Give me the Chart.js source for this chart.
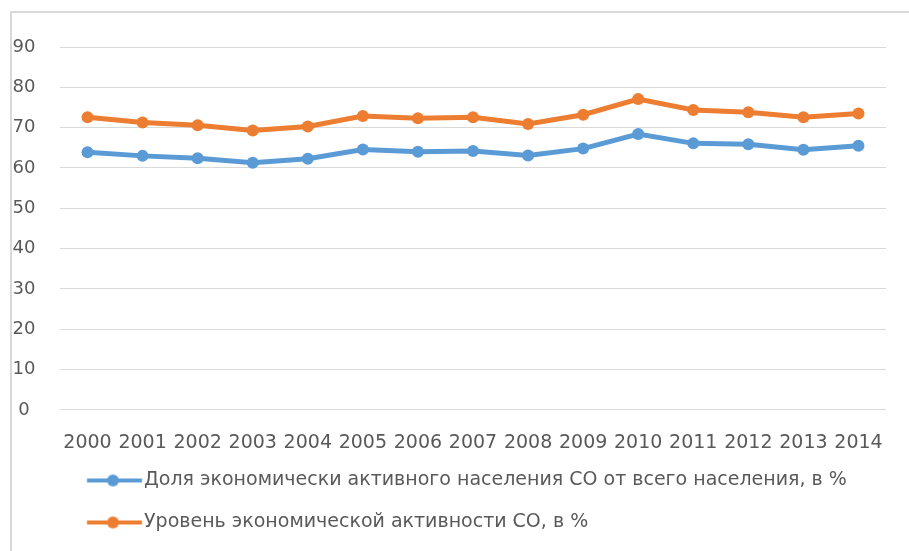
<!DOCTYPE html>
<html>
<head>
<meta charset="utf-8">
<script src="https://cdn.jsdelivr.net/npm/chart.js@4"></script>
<style>
  html, body { margin: 0; padding: 0; background: #fff; overflow: hidden; }
  #frame { position: absolute; left: 10px; top: 11px; width: 1000px; height: 1000px; border: 2px solid #d9d9d9; box-sizing: border-box; }
  #chart { position: absolute; left: 0; top: 0; }
</style>
</head>
<body>
<div id="frame"></div>
<canvas id="chart" width="909" height="551"></canvas>
<script>
const years = ["2000", "2001", "2002", "2003", "2004", "2005", "2006", "2007",
  "2008", "2009", "2010", "2011", "2012", "2013", "2014"];
const shareActive = [63.9, 63.0, 62.4, 61.3, 62.3, 64.6, 64.0, 64.2, 63.1, 64.8, 68.4, 66.1, 65.9, 64.5, 65.5];
const activityLevel = [72.6, 71.3, 70.6, 69.3, 70.3, 72.9, 72.3, 72.6, 70.9, 73.2, 77.1, 74.4, 73.8, 72.6, 73.5];
const seriesNames = [
  "Доля экономически активного населения СО от всего населения, в %",
  "Уровень экономической активности СО, в %",
];

const blue = "#5b9bd5";
const orange = "#ed7d31";
const textColor = "#595959";
const font = "'DejaVu Sans', sans-serif";

// legend icon: line with a dot in the middle, like Excel
function legendIcon(color) {
  const c = document.createElement("canvas");
  c.width = 70;
  c.height = 14;
  const g = c.getContext("2d");
  g.strokeStyle = color;
  g.lineWidth = 4;
  g.beginPath();
  g.moveTo(13.25, 7);
  g.lineTo(68.25, 7);
  g.stroke();
  g.fillStyle = color;
  g.beginPath();
  g.arc(39.25, 7, 6, 0, Math.PI * 2);
  g.fill();
  return c;
}
const icons = [legendIcon(blue), legendIcon(orange)];

const ctx = document.getElementById("chart").getContext("2d");
new Chart(ctx, {
  type: "line",
  data: {
    labels: years,
    datasets: [
      {
        label: seriesNames[0],
        data: shareActive,
        borderColor: blue,
        backgroundColor: blue,
        borderWidth: 5,
        pointRadius: 6,
        pointHoverRadius: 6,
        pointBorderWidth: 0,
      },
      {
        label: seriesNames[1],
        data: activityLevel,
        borderColor: orange,
        backgroundColor: orange,
        borderWidth: 5,
        pointRadius: 6,
        pointHoverRadius: 6,
        pointBorderWidth: 0,
      },
    ],
  },
  options: {
    responsive: false,
    animation: false,
    devicePixelRatio: 1,
    layout: { padding: { top: 47, right: 23, bottom: 9, left: 0 } },
    scales: {
      x: {
        offset: true,
        grid: { display: false, drawTicks: false },
        border: { display: false },
        ticks: {
          color: textColor,
          font: { family: font, size: 19 },
          padding: 21.3,
          maxRotation: 0,
          autoSkip: false,
        },
        afterFit: (scale) => {
          scale.height = 38.1;
        },
      },
      y: {
        min: 0,
        max: 90,
        grid: { color: "#d9d9d9", lineWidth: 1, drawTicks: false },
        border: { display: false },
        ticks: {
          stepSize: 10,
          color: textColor,
          font: { family: font, size: 18 },
          crossAlign: "center",
          padding: 24.5,
        },
        afterFit: (scale) => {
          scale.width = 60;
        },
      },
    },
    plugins: {
      tooltip: { enabled: false },
      legend: {
        position: "bottom",
        align: "start",
        fullSize: false,
        labels: {
          color: textColor,
          font: { family: font, size: 19 },
          padding: 23,
          usePointStyle: true,
          pointStyleWidth: 51.5,
          generateLabels: (chart) =>
            chart.data.datasets.map((ds, i) => ({
              text: ds.label,
              fillStyle: ds.backgroundColor,
              strokeStyle: ds.borderColor,
              lineWidth: 0,
              pointStyle: icons[i],
              fontColor: textColor,
              datasetIndex: i,
              hidden: false,
            })),
        },
      },
    },
  },
});
</script>
</body>
</html>
